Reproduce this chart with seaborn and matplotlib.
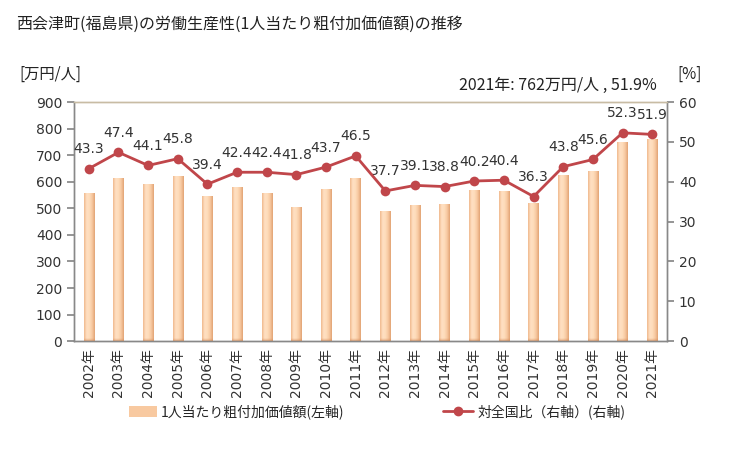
import numpy as np
import pandas as pd
import matplotlib
matplotlib.use("Agg")
import matplotlib.pyplot as plt
import seaborn as sns
from matplotlib.colors import LinearSegmentedColormap
from matplotlib.lines import Line2D
from matplotlib.patches import Patch

years = [f"{y}年" for y in range(2002, 2022)]
value_per_person = [557, 614, 591, 621, 546, 580, 557, 505, 572, 614,
                    490, 512, 516, 569, 565, 520, 625, 640, 749, 762]
ratio_national = [43.3, 47.4, 44.1, 45.8, 39.4, 42.4, 42.4, 41.8, 43.7, 46.5,
                  37.7, 39.1, 38.8, 40.2, 40.4, 36.3, 43.8, 45.6, 52.3, 51.9]

df = pd.DataFrame({"year": years, "value": value_per_person, "ratio": ratio_national})

sns.set_theme(style="white")
plt.rcParams['font.family'] = ['DejaVu Sans', 'Noto Sans CJK JP']
CJK = ['Noto Sans CJK JP', 'DejaVu Sans']

fig = plt.figure(figsize=(7.29, 4.5), dpi=100)
ax = fig.add_axes([0.1015, 0.242, 0.8135, 0.531])

sns.barplot(data=df, x="year", y="value", ax=ax, color="#fcd3ae", width=0.35,
            saturation=1, edgecolor="none")

# gradient fill on bars
cmap = LinearSegmentedColormap.from_list(
    "bar", ["#f0b98e", "#ffe0c2", "#fedcbb", "#f7c8a0", "#e2a475"])
grad = np.linspace(0, 1, 64).reshape(1, -1)
vgrad = np.linspace(0, 1, 32).reshape(-1, 1)
bottom_rgba = np.dstack([np.full((32, 1), 0.85), np.full((32, 1), 0.55),
                         np.full((32, 1), 0.35), (1 - vgrad) * 0.6])
for p in ax.patches:
    x0, y0 = p.get_x(), p.get_y()
    w, h = p.get_width(), p.get_height()
    im = ax.imshow(grad, extent=[x0, x0 + w, y0, y0 + h], aspect="auto",
                   cmap=cmap, zorder=2, origin="lower")
    im.set_clip_path(p)
    p.set_alpha(0)
    ax.imshow(bottom_rgba, extent=[x0, x0 + w, y0, y0 + 10], aspect="auto",
              zorder=3, origin="lower")

ax.set_xlim(-0.5, len(years) - 0.5)
ax.set_ylim(0, 900)
ax.set_yticks(range(0, 901, 100))
ax.set_xlabel("")
ax.set_ylabel("")
ax.set_xticks(np.arange(len(years)))
ax.set_xticklabels(years, rotation=90, fontsize=10, color="#333333")
ax.tick_params(axis="x", length=0, pad=5)
ax.set_xticks(np.arange(-0.5, len(years), 1), minor=True)
ax.tick_params(axis="x", which="minor", length=5, direction="out", color="#888888", width=1)
ax.tick_params(axis="y", labelsize=10, labelcolor="#333333", length=5, direction="out",
               color="#888888", left=True)

ax2 = ax.twinx()
sns.lineplot(data=df, x="year", y="ratio", ax=ax2, color="#c0464a", marker="o",
             markersize=7, markeredgewidth=0, linewidth=2, sort=False, zorder=5)
ax2.set_ylim(0, 60)
ax2.set_yticks(range(0, 61, 10))
ax2.set_ylabel("")
ax2.set_xlabel("")
ax2.tick_params(axis="y", labelsize=10, labelcolor="#333333", length=5, direction="out",
                color="#888888", right=True)
for i, v in enumerate(ratio_national):
    ax2.annotate(f"{v}", (i, v), xytext=(0, 9), textcoords="offset points",
                 ha="center", va="bottom", fontsize=10, color="#333333")

for a in (ax, ax2):
    for s in a.spines.values():
        s.set_color("#888888")
        s.set_linewidth(1)
    a.spines["top"].set_color("#c8bca4")
    a.grid(False)

fig.text(0.022, 0.945, "西会津町(福島県)の労働生産性(1人当たり粗付加価値額)の推移",
         fontsize=11.5, ha="left", va="center", color="#222222", family=CJK)
fig.text(0.027, 0.835, "[万円/人]", fontsize=11, ha="left", va="center", color="#222222",
         family=CJK)
fig.text(0.946, 0.835, "[%]", fontsize=11, ha="center", va="center", color="#222222",
         family=CJK)
fig.text(0.901, 0.81, "2021年: 762万円/人 , 51.9%", fontsize=11.5, ha="right", va="center",
         color="#222222", family=CJK)

handles = [Patch(facecolor="#f8c9a0", edgecolor="none"),
           Line2D([0], [0], color="#c0464a", marker="o", markersize=6, linewidth=2)]
fig.legend([handles[0]], ["1人当たり粗付加価値額(左軸)"], loc="center left",
           bbox_to_anchor=(0.16, 0.085), frameon=False, prop={"family": CJK, "size": 10},
           handlelength=2.0, handleheight=0.9, handletextpad=0.3)
fig.legend([handles[1]], ["対全国比（右軸）(右軸)"], loc="center left",
           bbox_to_anchor=(0.59, 0.085), frameon=False, prop={"family": CJK, "size": 10},
           handlelength=2.2, handletextpad=0.3)

fig.savefig("out.png", dpi=100)
